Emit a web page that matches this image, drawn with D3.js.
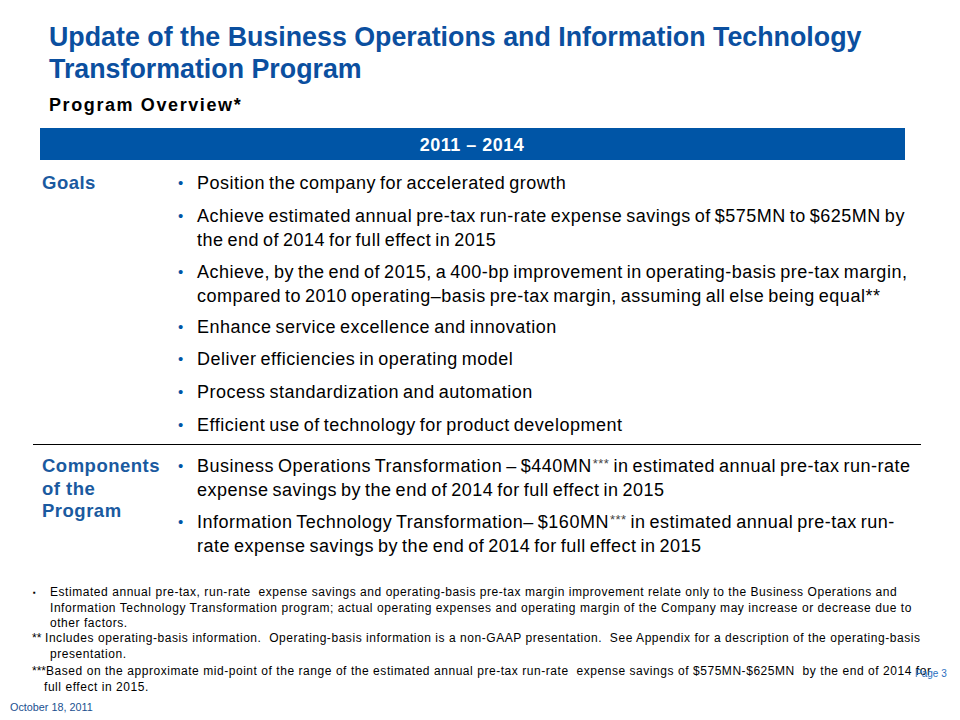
<!DOCTYPE html>
<html><head><meta charset="utf-8">
<script src="https://cdn.jsdelivr.net/npm/d3@7"></script>
<style>
body{margin:0;background:#fff;}
svg{display:block;font-family:"Liberation Sans",Arial,sans-serif;}
.pre{white-space:pre;}
</style></head>
<body>
<script>
const titleLines = ["Update of the Business Operations and Information Technology", "Transformation Program"];
const subtitle = "Program Overview*";
const headerLabel = "2011 \u2013 2014";
const goalsLabel = ["Goals"];
const goals = [
  ["Position the company for accelerated growth"],
  ["Achieve estimated annual pre-tax run-rate expense savings of $575MN to $625MN by", "the end of 2014 for full effect in 2015"],
  ["Achieve, by the end of 2015, a 400-bp improvement in operating-basis pre-tax margin,", "compared to 2010 operating\u2013basis pre-tax margin, assuming all else being equal**"],
  ["Enhance service excellence and innovation"],
  ["Deliver efficiencies in operating model"],
  ["Process standardization and automation"],
  ["Efficient use of technology for product development"]
];
const componentsLabel = ["Components", "of the", "Program"];
const components = [
  ["Business Operations Transformation \u2013 $440MN*** in estimated annual pre-tax run-rate", "expense savings by the end of 2014 for full effect in 2015"],
  ["Information Technology Transformation\u2013 $160MN*** in estimated annual pre-tax run-", "rate expense savings by the end of 2014 for full effect in 2015"]
];
const footnotes = [
  {mark:"\u25aa", lines:["Estimated annual pre-tax, run-rate  expense savings and operating-basis pre-tax margin improvement relate only to the Business Operations and", "Information Technology Transformation program; actual operating expenses and operating margin of the Company may increase or decrease due to", "other factors."]},
  {mark:"**", lines:["Includes operating-basis information.  Operating-basis information is a non-GAAP presentation.  See Appendix for a description of the operating-basis", "presentation."]},
  {mark:"***", lines:["Based on the approximate mid-point of the range of the estimated annual pre-tax run-rate  expense savings of $575MN-$625MN  by the end of 2014 for", "full effect in 2015."]}
];
const dateLabel = "October 18, 2011";
const pageLabel = "Page 3";

const W = 960, H = 720;
const BLUE = "#0b4f9f", BAR = "#0055a6", LABEL = "#1a5aa0";
const svg = d3.select("body").append("svg").attr("width", W).attr("height", H);

// Title
svg.append("g").selectAll("text").data(titleLines).join("text")
  .attr("x", 49).attr("y", (d,i)=>46 + i*32)
  .attr("fill", BLUE).attr("font-weight","bold").attr("font-size", 26.8)
  .text(d=>d);

svg.append("text").attr("x", 49).attr("y", 111)
  .attr("font-weight","bold").attr("font-size", 18).attr("fill","#000")
  .attr("letter-spacing", 1.6)
  .text(subtitle);

// Header bar
svg.append("rect").attr("x", 40).attr("y", 128).attr("width", 865).attr("height", 32).attr("fill", BAR);
svg.append("text").attr("x", 472).attr("y", 151).attr("text-anchor","middle")
  .attr("fill","#fff").attr("font-weight","bold").attr("font-size", 18).attr("letter-spacing", 0.5).text(headerLabel);

// Body line with raised small asterisk marks
function bodyLine(sel, str) {
  const parts = str.split(/(\*\*\*)/);
  let raised = false;
  parts.forEach(p => {
    if (p === "***") {
      sel.append("tspan").attr("font-size", 13).attr("fill", "#444").attr("dx", 1).attr("dy", -4).text(p);
      raised = true;
    } else if (p) {
      const t = sel.append("tspan").text(p);
      if (raised) { t.attr("dy", 4); raised = false; }
    }
  });
}

// Section drawer
function section(labelLines, labelY, items, itemYs) {
  const g = svg.append("g");
  g.selectAll("text.lab").data(labelLines).join("text").attr("class","lab")
    .attr("x", 42).attr("y", (d,i)=>labelY + i*22.5)
    .attr("fill", LABEL).attr("font-weight","bold").attr("font-size", 18.5).attr("letter-spacing", 0.5).text(d=>d);
  items.forEach((lines, k) => {
    const y0 = itemYs[k];
    g.append("text").attr("x", 178).attr("y", y0 - 1).attr("font-size", 15).attr("fill", BAR).text("\u2022");
    g.selectAll(null).data(lines).join("text")
      .attr("x", 197).attr("y", (d,i)=>y0 + i*24)
      .attr("font-size", 18).attr("fill","#000").attr("word-spacing", -1.5).attr("letter-spacing", 0.5)
      .each(function(d){ bodyLine(d3.select(this), d); });
  });
}
section(goalsLabel, 189, goals, [189, 222, 278, 333, 365, 398, 431]);
svg.append("line").attr("x1", 33).attr("x2", 921).attr("y1", 444.5).attr("y2", 444.5)
  .attr("stroke","#000").attr("stroke-width",1);
section(componentsLabel, 472, components, [472, 528]);

// Footnotes
const fn = svg.append("g").attr("font-size", 12).attr("fill","#000");
const fnY = [596, 642, 675];
const fnMarkX = [33, 32, 32];
const fnTextX = [[50,50,50],[45,50],[46,44]];
footnotes.forEach((f, k) => {
  fn.append("text").attr("x", fnMarkX[k]).attr("y", fnY[k] + (k===0?-1:0)).attr("font-size", k===0?8:12).text(f.mark);
  fn.selectAll(null).data(f.lines).join("text").attr("class","pre")
    .attr("x", (d,i)=>fnTextX[k][i]).attr("y", (d,i)=>fnY[k] + i*15.5)
    .attr("letter-spacing", 0.55)
    .text(d=>d);
});

svg.append("text").attr("x", 10).attr("y", 711).attr("font-size", 10.8).attr("fill", "#1a4f8f").text(dateLabel);
svg.append("text").attr("x", 915).attr("y", 677).attr("font-size", 10).attr("fill", "#2a6fbf").text(pageLabel);
</script>
</body></html>
